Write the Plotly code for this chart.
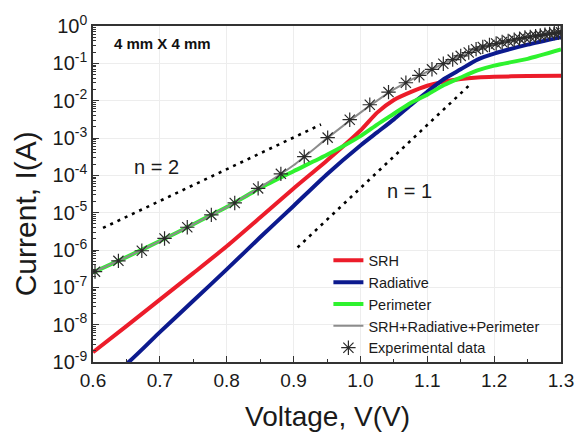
import numpy as np
import plotly.graph_objects as go

# ---- data (currents stored as log10(I/A)) ----
model_v = [0.60, 0.65, 0.70, 0.75, 0.80, 0.85, 0.90, 0.95, 1.00, 1.025, 1.05,
           1.075, 1.10, 1.125, 1.15, 1.175, 1.20, 1.25, 1.30]
srh_log = [-8.74, -8.04, -7.33, -6.62, -5.90, -5.13, -4.35, -3.60, -2.80, -2.32, -1.98,
           -1.77, -1.60, -1.49, -1.42, -1.38, -1.36, -1.34, -1.33]
rad_log = [-9.60, -9.05, -8.20, -7.36, -6.52, -5.66, -4.82, -3.97, -3.20, -2.85, -2.50,
           -2.12, -1.76, -1.42, -1.16, -0.90, -0.74, -0.50, -0.30]
per_log = [-6.60, -6.19, -5.76, -5.31, -4.85, -4.34, -3.89, -3.45, -2.95, -2.64, -2.35,
           -2.06, -1.84, -1.58, -1.38, -1.19, -1.06, -0.88, -0.63]
tot_log = [-6.60, -6.19, -5.76, -5.31, -4.85, -4.32, -3.73, -3.01, -2.32, -2.00, -1.70,
           -1.45, -1.22, -1.00, -0.81, -0.61, -0.49, -0.30, -0.17]

exp_v = [0.603, 0.638, 0.673, 0.707, 0.741, 0.777, 0.812, 0.847, 0.881, 0.916, 0.951,
         0.984, 1.014, 1.042, 1.068, 1.088, 1.107, 1.124, 1.138, 1.150, 1.162, 1.173,
         1.183, 1.193, 1.203, 1.212, 1.221, 1.230, 1.238, 1.246, 1.254, 1.262, 1.269,
         1.276, 1.283, 1.290, 1.296, 1.300]
exp_log = [-6.58, -6.29, -6.02, -5.69, -5.39, -5.06, -4.74, -4.35, -3.96, -3.50, -2.99,
           -2.51, -2.11, -1.77, -1.52, -1.32, -1.16, -1.01, -0.90, -0.80, -0.71, -0.62,
           -0.56, -0.51, -0.47, -0.43, -0.40, -0.37, -0.34, -0.31, -0.29, -0.27, -0.25,
           -0.23, -0.21, -0.19, -0.18, -0.17]

n2_v = [0.615, 0.941]
n2_i = [3.9e-6, 2.3e-3]
n1_v = [0.906, 1.163]
n1_i = [1.17e-6, 2.6e-2]

x_ticks = [0.6, 0.7, 0.8, 0.9, 1.0, 1.1, 1.2, 1.3]
y_exps = [0, -1, -2, -3, -4, -5, -6, -7, -8, -9]

FONT = "Liberation Sans, Arial, Helvetica, sans-serif"

def tolin(a):
    return list(10.0 ** np.array(a))

fig = go.Figure()

fig.add_trace(go.Scatter(x=n2_v, y=n2_i, mode="lines", showlegend=False,
                         line=dict(color="black", width=2.6, dash="3px,5px")))
fig.add_trace(go.Scatter(x=n1_v, y=n1_i, mode="lines", showlegend=False,
                         line=dict(color="black", width=2.6, dash="3px,5px")))

fig.add_trace(go.Scatter(x=model_v, y=tolin(srh_log), mode="lines", name="SRH",
                         line=dict(color="#ec1c2a", width=4, shape="spline", smoothing=0.6)))
fig.add_trace(go.Scatter(x=model_v, y=tolin(rad_log), mode="lines", name="Radiative",
                         line=dict(color="#0c1a8e", width=4, shape="spline", smoothing=0.6)))
fig.add_trace(go.Scatter(x=model_v, y=tolin(per_log), mode="lines", name="Perimeter",
                         line=dict(color="#2ef22e", width=4, shape="spline", smoothing=0.6)))
fig.add_trace(go.Scatter(x=model_v, y=tolin(tot_log), mode="lines",
                         name="SRH+Radiative+Perimeter",
                         line=dict(color="#8c8c8c", width=2, shape="spline", smoothing=0.6)))
fig.add_trace(go.Scatter(x=exp_v, y=tolin(exp_log), mode="markers", name="Experimental data",
                         marker=dict(symbol="asterisk-open", size=12, color="#2a2a2a",
                                     line=dict(color="#2a2a2a", width=1.2))))

minor_y = [k * 10.0 ** e for e in range(-9, 0) for k in range(2, 10)]

fig.update_layout(
    width=586, height=432,
    margin=dict(l=93, r=24, t=15, b=70),
    paper_bgcolor="white", plot_bgcolor="white",
    font=dict(family=FONT, color="#1a1a1a"),
    showlegend=True,
    legend=dict(x=0.503, y=0.35, xanchor="left", yanchor="top",
                bgcolor="rgba(0,0,0,0)", borderwidth=0,
                font=dict(size=14.5, family=FONT, color="#1a1a1a"),
                tracegroupgap=0, itemwidth=30),
    xaxis=dict(range=[0.6, 1.3], tickmode="array", tickvals=x_ticks,
               ticktext=[f"{v:.1f}" for v in x_ticks],
               ticks="inside", ticklen=6, tickwidth=1.2, tickcolor="#333",
               showline=True, linecolor="#333", linewidth=1.5, mirror=True,
               showgrid=True, gridcolor="#ededed", gridwidth=1, zeroline=False,
               tickfont=dict(size=19, family=FONT, color="#1a1a1a"),
               minor=dict(tickmode="array", tickvals=[0.65, 0.75, 0.85, 0.95, 1.05, 1.15, 1.25],
                          ticks="inside", ticklen=3, tickcolor="#333", showgrid=False)),
    yaxis=dict(type="log", range=[-9, 0], tickmode="array",
               tickvals=[10.0 ** e for e in y_exps],
               ticktext=[f"10<sup>{e}</sup>" for e in y_exps],
               ticks="inside", ticklen=6, tickwidth=1.2, tickcolor="#333",
               showline=True, linecolor="#333", linewidth=1.5, mirror=True,
               showgrid=True, gridcolor="#ededed", gridwidth=1, zeroline=False,
               tickfont=dict(size=20, family=FONT, color="#1a1a1a"),
               minor=dict(tickmode="array", tickvals=minor_y, ticks="inside",
                          ticklen=3, tickcolor="#333", showgrid=False)),
    annotations=[
        dict(text="Voltage, V(V)", xref="paper", yref="paper", x=0.5, y=-0.11,
             xanchor="center", yanchor="top", showarrow=False,
             font=dict(size=28, family=FONT, color="#1a1a1a")),
        dict(text="Current, I(A)", xref="paper", yref="paper", x=-0.145, y=0.44,
             xanchor="center", yanchor="middle", showarrow=False, textangle=-90,
             font=dict(size=30, family=FONT, color="#1a1a1a")),
        dict(text="<b>4 mm X 4 mm</b>", xref="paper", yref="paper", x=0.149, y=0.948,
             xanchor="center", yanchor="middle", showarrow=False,
             font=dict(size=15, family=FONT, color="#111")),
        dict(text="n = 2", xref="paper", yref="paper", x=0.136, y=0.579,
             xanchor="center", yanchor="middle", showarrow=False,
             font=dict(size=20, family=FONT, color="#1a1a1a")),
        dict(text="n = 1", xref="paper", yref="paper", x=0.676, y=0.510,
             xanchor="center", yanchor="middle", showarrow=False,
             font=dict(size=20, family=FONT, color="#1a1a1a")),
    ],
)

fig.write_html("out.html")
